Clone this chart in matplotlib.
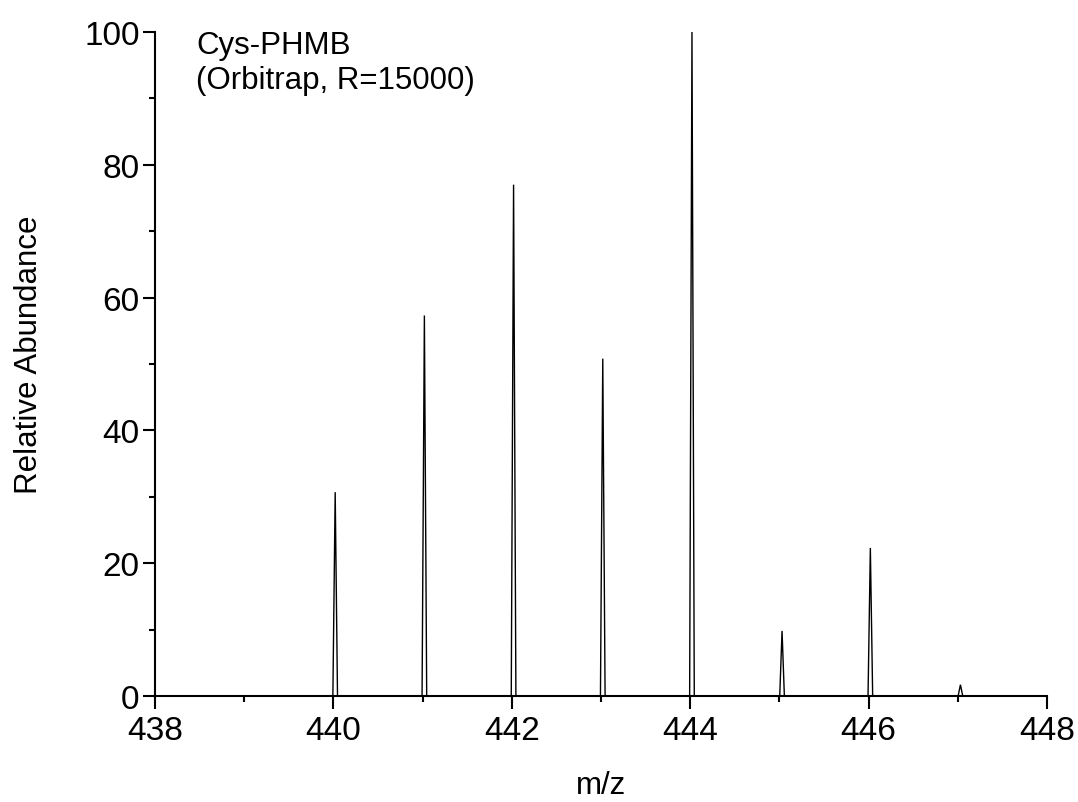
import matplotlib
matplotlib.use("Agg")
import matplotlib.pyplot as plt
from matplotlib.ticker import MultipleLocator

# Peak data (m/z centers and relative abundances)
peak_mz = [440.02, 441.02, 442.02, 443.02, 444.02, 445.03, 446.02, 447.03]
peak_abund = [30.7, 57.3, 77.0, 50.8, 100.0, 9.8, 22.3, 1.7]

x_ticks = [438, 440, 442, 444, 446, 448]
y_ticks = [0, 20, 40, 60, 80, 100]

plt.rcParams['font.family'] = ['Liberation Sans', 'DejaVu Sans']

fig = plt.figure(figsize=(10.78, 8.03), dpi=100)
ax = fig.add_axes([0.1438, 0.132, 0.8274, 0.827])

half_width = 0.026
for c, h in zip(peak_mz, peak_abund):
    ax.plot([c - half_width, c, c + half_width], [0, h, 0],
            color='black', lw=1.0, solid_joinstyle='miter')

ax.set_xlim(438, 448)
ax.set_ylim(0, 100)
ax.set_xticks(x_ticks)
ax.set_yticks(y_ticks)
ax.xaxis.set_minor_locator(MultipleLocator(1))
ax.yaxis.set_minor_locator(MultipleLocator(10))

for s in ['top', 'right']:
    ax.spines[s].set_visible(False)
for s in ['left', 'bottom']:
    ax.spines[s].set_linewidth(1.5)

ax.tick_params(which='major', direction='out', length=9, width=1.5,
               labelsize=24, pad=5)
ax.tick_params(axis='y', which='major', pad=2)
ax.tick_params(which='minor', direction='out', length=4.5, width=1.5)

ax.set_xlabel('m/z', fontsize=22.5, labelpad=17)
ax.set_ylabel('Relative Abundance', fontsize=22.5)
ax.yaxis.set_label_coords(-0.125, 0.515)

ax.text(0.046, 1.003, 'Cys-PHMB\n(Orbitrap, R=15000)', transform=ax.transAxes,
        fontsize=22.5, va='top', ha='left', linespacing=1.2)

fig.savefig('out.png', dpi=100)
